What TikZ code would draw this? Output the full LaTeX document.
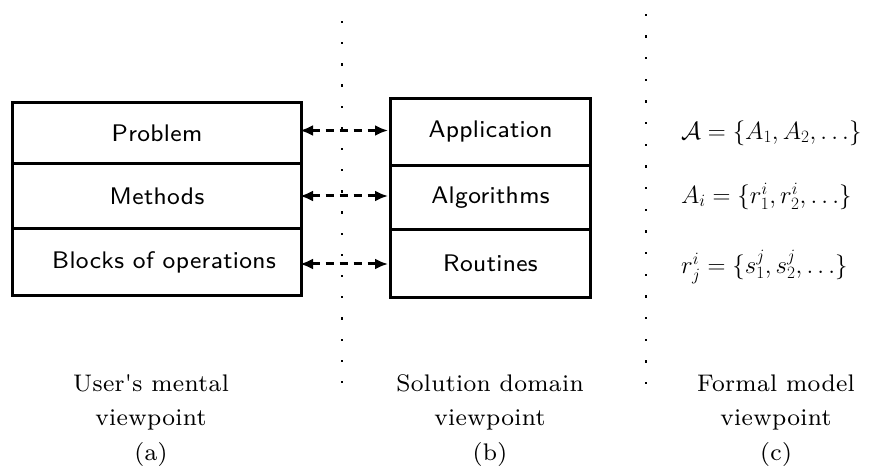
\documentclass[tikz,border=0pt]{standalone}
\usepackage{fontspec}
\usetikzlibrary{arrows.meta}
\newfontfamily\boxfont{lmsans8-regular.otf}[LetterSpace=1.5]
\newfontfamily\capfont{lmroman8-regular.otf}[LetterSpace=1.5]
\begin{document}
\begin{tikzpicture}[x=1pt,y=-1pt,
  rowbox/.style={draw, line width=3pt, rectangle, inner sep=0pt, font=\boxfont\fontsize{24}{27}\selectfont},
  linkarrow/.style={line width=3pt, dash pattern=on 8pt off 6pt, {Latex[length=13pt,width=11pt]}-{Latex[length=13pt,width=11pt]}},
  caption/.style={align=center, font=\capfont\fontsize{24}{34.5}\selectfont},
  formula/.style={anchor=west, font=\fontsize{24.5}{28}\selectfont, inner sep=0pt},
  dot/.style={fill=black, inner sep=0pt, minimum size=2.3pt, rectangle}]
\useasboundingbox (0,0) rectangle (873,473);
% left stack
\node[rowbox, minimum width=289pt, minimum height=61pt, anchor=north west] (p1) at (11,101.5) {Problem};
\node[rowbox, minimum width=289pt, minimum height=65pt, anchor=north west] (p2) at (11,162) {Methods};
\node[rowbox, minimum width=289pt, minimum height=67pt, anchor=north west] (p3) at (11,227) {\hspace*{14pt}Blocks of operations};
% middle stack
\node[rowbox, minimum width=200pt, minimum height=67pt, anchor=north west] (s1) at (389,97) {Application};
\node[rowbox, minimum width=200pt, minimum height=64pt, anchor=north west] (s2) at (389,164) {Algorithms};
\node[rowbox, minimum width=200pt, minimum height=68pt, anchor=north west] (s3) at (389,228) {Routines};
% arrows
\coordinate (a1) at (300,130.5);
\coordinate (b1) at (388,130.5);
\coordinate (a2) at (300,196);
\coordinate (b2) at (388,196);
\coordinate (a3) at (300,264);
\coordinate (b3) at (388,264);
\draw[linkarrow] (a1) -- (b1);
\draw[linkarrow] (a2) -- (b2);
\draw[linkarrow] (a3) -- (b3);
% dotted separators
\foreach \i in {0,...,17} {
  \node[dot] at (342,22+21.18*\i) {};
  \node[dot] at (646,15+21.65*\i) {};
}
% formulas
\node[formula] (f1) at (681,133) {$\mathcal{A}=\{A_1,A_2,\ldots\}$};
\node[formula] (f2) at (681,196) {$A_i=\{r^i_1,r^i_2,\ldots\}$};
\node[formula] (f3) at (681,267) {$r^i_j=\{s^j_1,s^j_2,\ldots\}$};
% captions
\node[caption, anchor=north] (ca) at (151,371) {User's mental\\viewpoint\\(a)};
\node[caption, anchor=north] (cb) at (490,371) {Solution domain\\viewpoint\\(b)};
\node[caption, anchor=north] (cc) at (776,371) {Formal model\\viewpoint\\(c)};
\end{tikzpicture}
\end{document}
